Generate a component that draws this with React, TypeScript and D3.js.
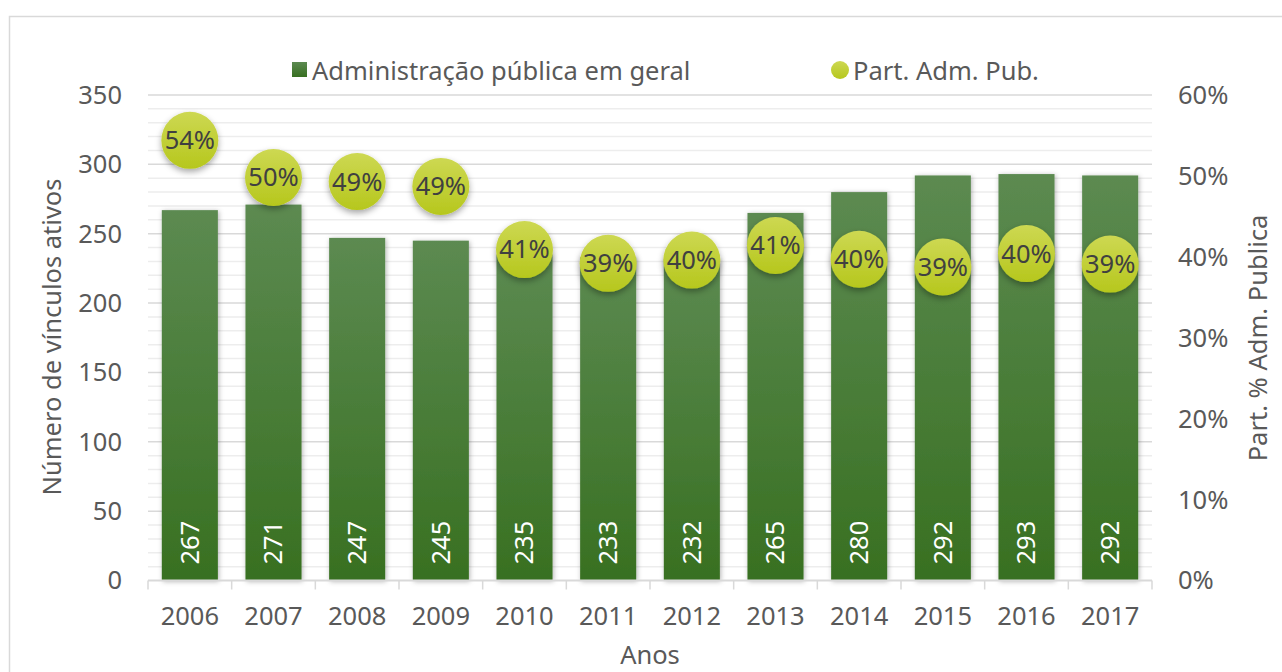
import React from "react";
import * as d3 from "d3";

// dados do gráfico
const anos = ["2006", "2007", "2008", "2009", "2010", "2011", "2012", "2013", "2014", "2015", "2016", "2017"];
const vinculos = [267, 271, 247, 245, 235, 233, 232, 265, 280, 292, 293, 292];
const partAdmPub = [0.544, 0.498, 0.493, 0.487, 0.409, 0.392, 0.396, 0.414, 0.397, 0.3875, 0.404, 0.391];
const ticksEsq = [0, 50, 100, 150, 200, 250, 300, 350];
const ticksDir = [0, 0.1, 0.2, 0.3, 0.4, 0.5, 0.6];

const W = 1282;
const H = 672;
const margin = { top: 95, right: 130, bottom: 91.5, left: 148 };
const font = "'Noto Sans', 'Open Sans', sans-serif";
const grey = "#595959";
const fs = 25.5;

const App = () => {
  const x = d3
    .scaleBand()
    .domain(anos)
    .range([margin.left, W - margin.right])
    .paddingInner(0.33)
    .paddingOuter(0.165);
  const yL = d3.scaleLinear().domain([0, 350]).range([H - margin.bottom, margin.top]);
  const yR = d3.scaleLinear().domain([0, 0.6]).range([H - margin.bottom, margin.top]);
  const pct = d3.format(".0%");

  const minor = d3.range(0, 351, 10).filter((v) => v % 50 !== 0);
  const bounds = d3.range(0, anos.length + 1).map((i) => margin.left + i * x.step());
  const base = yL(0);

  return (
    <div style={{ position: "absolute", left: 0, top: 0 }}>
      <svg width={W} height={H} style={{ display: "block", fontFamily: font }}>
        <defs>
          <linearGradient id="barGrad" x1="0" y1="0" x2="0" y2="1">
            <stop offset="0%" stopColor="#5c8a51" />
            <stop offset="100%" stopColor="#387021" />
          </linearGradient>
          <linearGradient id="bubGrad" x1="0" y1="0" x2="0" y2="1">
            <stop offset="0%" stopColor="#cdd852" />
            <stop offset="100%" stopColor="#b6c71d" />
          </linearGradient>
          <filter id="barShadow" x="-20%" y="-10%" width="140%" height="120%">
            <feDropShadow dx="1" dy="1" stdDeviation="2.5" floodColor="#000" floodOpacity="0.3" />
          </filter>
          <filter id="bubShadow" x="-30%" y="-30%" width="160%" height="170%">
            <feDropShadow dx="0" dy="3" stdDeviation="3" floodColor="#000" floodOpacity="0.35" />
          </filter>
        </defs>

        <rect x={9.5} y={16.5} width={1300} height={700} fill="#fff" stroke="#d9d9d9" strokeWidth={1.5} />

        {/* grade */}
        {minor.map((v) => (
          <line key={"m" + v} x1={margin.left} x2={W - margin.right} y1={yL(v)} y2={yL(v)} stroke="#ededed" strokeWidth={1.5} />
        ))}
        {ticksEsq.slice(1).map((v) => (
          <line key={"g" + v} x1={margin.left} x2={W - margin.right} y1={yL(v)} y2={yL(v)} stroke="#d9d9d9" strokeWidth={1.5} />
        ))}

        {/* barras */}
        {anos.map((a, i) => (
          <rect
            key={"b" + a}
            x={x(a)}
            y={yL(vinculos[i])}
            width={x.bandwidth()}
            height={base - yL(vinculos[i])}
            fill="url(#barGrad)"
            filter="url(#barShadow)"
          />
        ))}

        {/* eixo x */}
        <line x1={margin.left} x2={W - margin.right} y1={base} y2={base} stroke="#d9d9d9" strokeWidth={2} />
        {bounds.map((bx, i) => (
          <line key={"t" + i} x1={bx} x2={bx} y1={base} y2={base + 9} stroke="#d9d9d9" strokeWidth={1.5} />
        ))}

        {/* rótulos das barras */}
        {anos.map((a, i) => (
          <text
            key={"v" + a}
            transform={`translate(${x(a)! + x.bandwidth() / 2},${base - 16}) rotate(-90)`}
            dy="0.35em"
            fill="#fff"
            fontSize={fs}
          >
            {vinculos[i]}
          </text>
        ))}

        {/* bolhas */}
        {anos.map((a, i) => (
          <g key={"p" + a} transform={`translate(${x(a)! + x.bandwidth() / 2},${yR(partAdmPub[i])})`}>
            <circle r={28.5} fill="url(#bubGrad)" filter="url(#bubShadow)" />
            <text textAnchor="middle" dy="0.35em" fill="#404040" fontSize={fs}>
              {pct(partAdmPub[i])}
            </text>
          </g>
        ))}

        {/* eixos y */}
        {ticksEsq.map((v) => (
          <text key={"l" + v} x={122} y={yL(v)} dy="0.35em" textAnchor="end" fill={grey} fontSize={fs}>
            {v}
          </text>
        ))}
        {ticksDir.map((v) => (
          <text key={"r" + v} x={1178} y={yR(v)} dy="0.35em" fill={grey} fontSize={fs}>
            {pct(v)}
          </text>
        ))}
        {anos.map((a) => (
          <text key={"c" + a} x={x(a)! + x.bandwidth() / 2} y={625} textAnchor="middle" fill={grey} fontSize={fs}>
            {a}
          </text>
        ))}

        {/* títulos */}
        <text x={650} y={664} textAnchor="middle" fill={grey} fontSize={fs}>
          Anos
        </text>
        <text transform="translate(52,337) rotate(-90)" dy="0.35em" textAnchor="middle" fill={grey} fontSize={fs}>
          Número de vínculos ativos
        </text>
        <text transform="translate(1258,338) rotate(-90)" dy="0.35em" textAnchor="middle" fill={grey} fontSize={fs}>
          Part. % Adm. Publica
        </text>

        {/* legenda */}
        <rect x={292} y={62} width={15} height={15} fill="url(#barGrad)" />
        <text x={312} y={80} fill={grey} fontSize={fs}>
          Administração pública em geral
        </text>
        <circle cx={840} cy={70} r={9} fill="url(#bubGrad)" />
        <text x={853} y={80} fill={grey} fontSize={fs}>
          Part. Adm. Pub.
        </text>
      </svg>
    </div>
  );
};

export default App;
